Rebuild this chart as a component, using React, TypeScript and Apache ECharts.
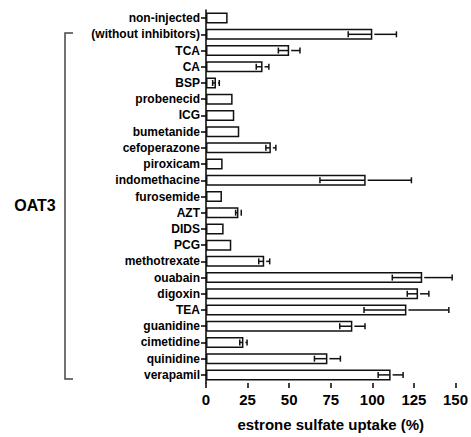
import React, { useEffect, useRef } from "react";
import * as echarts from "echarts";

const categories = [
  "non-injected",
  "(without inhibitors)",
  "TCA",
  "CA",
  "BSP",
  "probenecid",
  "ICG",
  "bumetanide",
  "cefoperazone",
  "piroxicam",
  "indomethacine",
  "furosemide",
  "AZT",
  "DIDS",
  "PCG",
  "methotrexate",
  "ouabain",
  "digoxin",
  "TEA",
  "guanidine",
  "cimetidine",
  "quinidine",
  "verapamil",
];

const uptake = [13, 100, 50, 34, 6, 16, 17, 20, 39, 10, 96, 9.6, 19.5, 10.6, 15.2, 35, 130, 127.5, 120.5, 88, 22.5, 73, 111];
const errors = [0, 14.5, 6.5, 3.8, 2, 0, 0, 0, 3, 0, 27.5, 0, 1.7, 0, 0, 3.3, 18, 6.5, 25.5, 7.6, 2.2, 7.8, 7.5];

const xTicks = [0, 25, 50, 75, 100, 125, 150];
const xTitle = "estrone sulfate uptake (%)";
const groupLabel = "OAT3";

const FONT = "'Liberation Sans', Arial, Helvetica, sans-serif";

export default function App() {
  const ref = useRef<HTMLDivElement>(null);
  useEffect(() => {
    if (!ref.current) return;
    const chart = echarts.init(ref.current, null, { renderer: "svg" });
    const errData = uptake.map((v, i) => [v, i, errors[i]]);
    chart.setOption({
      animation: false,
      backgroundColor: "#fff",
      grid: { left: 206, right: 15, top: 10, bottom: 50, containLabel: false },
      xAxis: {
        type: "value",
        min: xTicks[0],
        max: xTicks[xTicks.length - 1],
        interval: 25,
        name: xTitle,
        nameLocation: "middle",
        nameGap: 34,
        nameTextStyle: { fontFamily: FONT, fontWeight: "bold", fontSize: 15, color: "#000" },
        axisLine: { lineStyle: { color: "#000", width: 1.5 } },
        axisTick: { show: true, length: 5, lineStyle: { color: "#000", width: 1.5 } },
        axisLabel: { fontFamily: FONT, fontWeight: "bold", fontSize: 15, color: "#000", margin: 9 },
        splitLine: { show: false },
      },
      yAxis: {
        type: "category",
        data: categories,
        inverse: true,
        axisLine: { show: true, lineStyle: { color: "#000", width: 1.5 } },
        axisTick: { show: true, length: 5, alignWithLabel: true, lineStyle: { color: "#000", width: 1.5 } },
        axisLabel: { fontFamily: FONT, fontWeight: "bold", fontSize: 12, color: "#000", margin: 6 },
      },
      series: [
        {
          type: "bar",
          data: uptake,
          barWidth: 11,
          itemStyle: { color: "#fff", borderColor: "#111", borderWidth: 1.5 },
          z: 2,
        },
        {
          type: "custom",
          data: errData,
          encode: { x: 0, y: 1 },
          z: 3,
          renderItem: (params: any, api: any) => {
            const mean = api.value(0);
            const idx = api.value(1);
            const err = api.value(2);
            if (!err) return { type: "group", children: [] };
            const pm = api.coord([mean, idx]);
            const pl = api.coord([mean - err, idx]);
            const ph = api.coord([mean + err, idx]);
            const y = pm[1];
            const cap = 3;
            const style = { stroke: "#111", lineWidth: 1.5, fill: "none" };
            const children: any[] = [
              { type: "line", shape: { x1: pl[0], y1: y, x2: pm[0] - 1, y2: y }, style },
              { type: "line", shape: { x1: pl[0], y1: y - cap, x2: pl[0], y2: y + cap }, style },
            ];
            if (ph[0] - pm[0] > 3) {
              children.push({ type: "line", shape: { x1: pm[0] + 2, y1: y, x2: ph[0], y2: y }, style });
            }
            children.push({ type: "line", shape: { x1: ph[0], y1: y - cap, x2: ph[0], y2: y + cap }, style });
            return { type: "group", children };
          },
        },
      ],
      graphic: [
        {
          type: "polyline",
          shape: { points: [[73, 33], [65, 33], [65, 379], [73, 379]] },
          style: { stroke: "#444", lineWidth: 1.5, fill: "none" },
        },
        {
          type: "text",
          x: 35,
          y: 205,
          style: {
            text: groupLabel,
            font: `bold 16px ${FONT}`,
            fill: "#000",
            textAlign: "center",
            textVerticalAlign: "middle",
          },
        },
      ],
    });
    return () => chart.dispose();
  }, []);
  return <div ref={ref} style={{ width: 471, height: 437, position: "absolute", left: 0, top: 0 }} />;
}
